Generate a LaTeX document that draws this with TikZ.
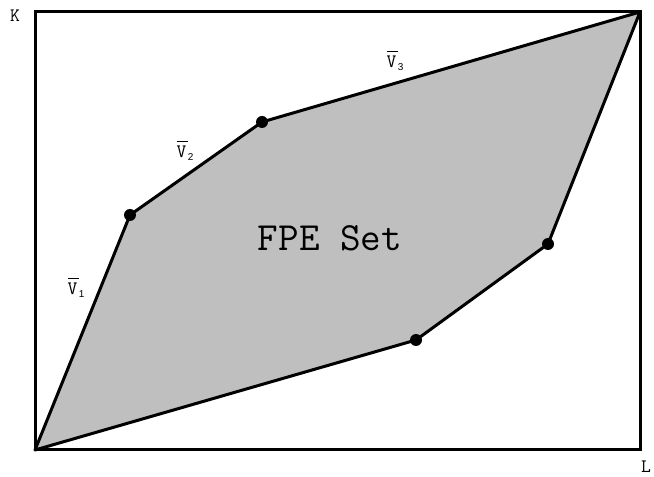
\documentclass[tikz,border=0pt]{standalone}
\usepackage{fontspec}
\newfontfamily\subfont{Liberation Sans}
\newcommand{\vlab}[1]{\vbox{\hrule height 1pt width 0.6em\kern 3pt\hbox{V}}\raisebox{-3.5pt}{\subfont\fontsize{10}{10}\selectfont #1}}
\begin{document}
\begin{tikzpicture}[x=1pt,y=1pt,
  edge/.style={line width=3pt,line join=round},
  dot/.style={circle,fill=black,inner sep=0pt,minimum size=12pt},
  lab/.style={inner sep=0pt,font=\ttfamily\fontsize{19}{19}\selectfont}]
\useasboundingbox (0,0) rectangle (654,477);
\coordinate (A) at (35,27);
\coordinate (B) at (130,262);
\coordinate (C) at (262,355);
\coordinate (D) at (640,465);
\coordinate (E) at (548,233);
\coordinate (F) at (416,137);
\fill[fill=black!25] (A) -- (B) -- (C) -- (D) -- (E) -- (F) -- cycle;
\draw[edge] (A) -- (B) -- (C) -- (D) -- (E) -- (F) -- cycle;
\draw[line width=3pt] (35,27) rectangle (640,465);
\node[dot] (b) at (B) {};
\node[dot] (c) at (C) {};
\node[dot] (e) at (E) {};
\node[dot] (f) at (F) {};
\node[lab] (K) at (15,461) {K};
\node[lab,anchor=west] (L) at (641,10) {L};
\node[lab] (v1) at (76,189) {\vlab{1}};
\node[lab] (v2) at (185,326) {\vlab{2}};
\node[lab] (v3) at (395,416) {\vlab{3}};
\node[inner sep=0pt,font=\ttfamily\fontsize{40}{40}\selectfont] (fpe) at (330,239) {FPE Set};
\end{tikzpicture}
\end{document}
